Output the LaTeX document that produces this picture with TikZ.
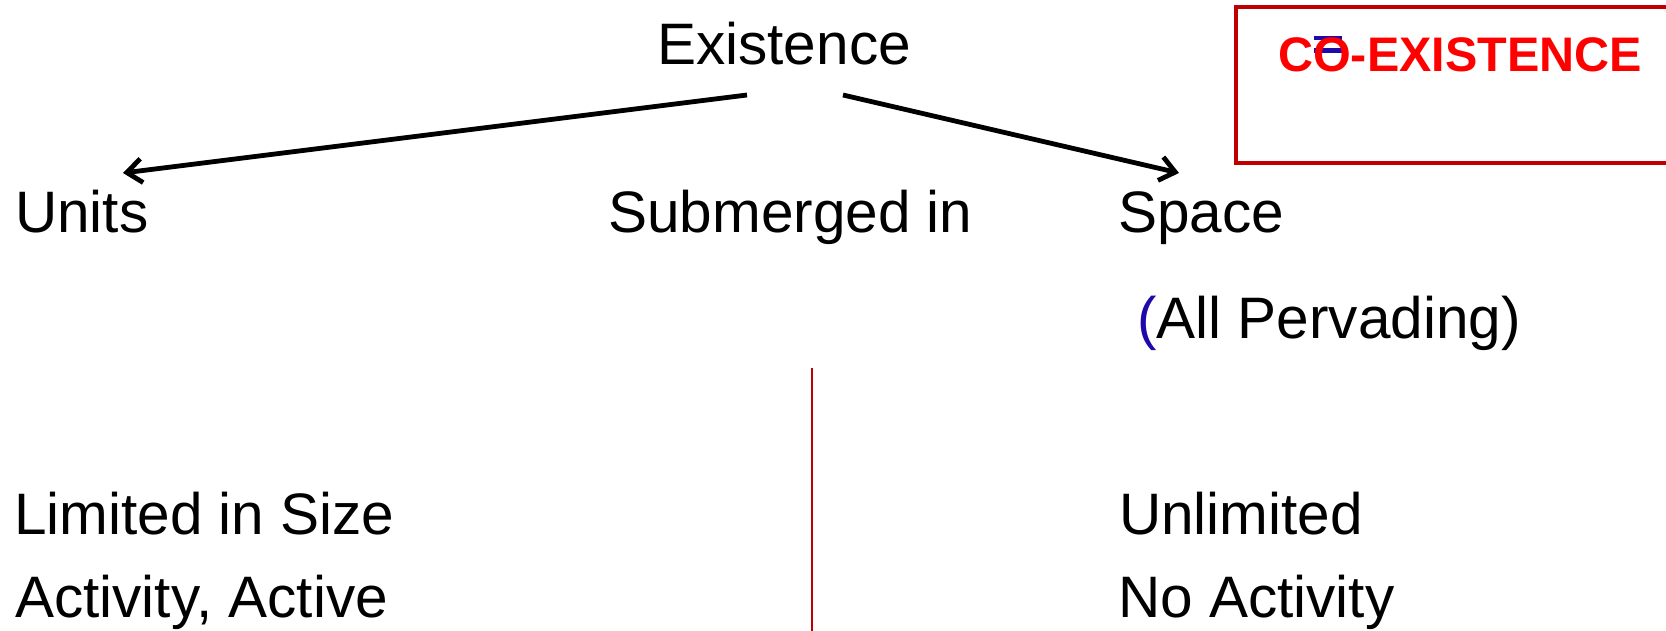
\documentclass[tikz,border=0pt]{standalone}
\usepackage{fontspec}
\setmainfont{Liberation Sans}
\usetikzlibrary{arrows.meta}
\definecolor{boxred}{RGB}{192,0,0}
\definecolor{txtred}{RGB}{255,0,0}
\definecolor{parblue}{RGB}{30,10,170}
\tikzset{
  lbl/.style={anchor=base west, inner sep=0pt, font=\fontsize{58.5}{60}\selectfont},
  conn/.style={line width=4.8pt, -{Straight Barb[length=15pt,width=24pt]}}
}
\begin{document}
\begin{tikzpicture}[x=1pt,y=-1pt]
\useasboundingbox (0,0) rectangle (1666,631);
\clip (0,0) rectangle (1666,631);
\fill[white] (0,0) rectangle (1666,631);
% title box
\draw[boxred, line width=4pt] (1236,7) rectangle (1690,163);
\fill[parblue] (1314,36) rectangle (1342,40);
\fill[parblue] (1314,48) rectangle (1342,53);
\node[anchor=base west, inner sep=0pt, text=txtred, font=\fontsize{48.5}{50}\selectfont\bfseries] (coex) at (1278,72) {CO-EXISTENCE};
% texts
\node[lbl] (exist) at (657,65) {Existence};
\node[lbl] (units) at (15,233) {Units};
\node[lbl] (subm) at (608,233) {Submerged in};
\node[lbl] (space) at (1118,233) {Space};
\node[lbl] (perv) at (1137,338) {\textcolor{parblue}{(}All Pervading)};
\node[lbl] (lim) at (14,534) {Limited in Size};
\node[lbl] (act) at (15,617) {Activity, Active};
\node[lbl] (unlim) at (1119,534) {Unlimited};
\node[lbl] (noact) at (1118,617) {No Activity};
% connectors
\coordinate (ls) at (747,95);
\coordinate (lt) at (123,173);
\coordinate (rs) at (843,95);
\coordinate (rt) at (1179,173);
\draw[conn] (ls) -- (lt);
\draw[conn] (rs) -- (rt);
% divider
\coordinate (dtop) at (812,368);
\coordinate (dbot) at (812,640);
\draw[boxred, line width=1.6pt] (dtop) -- (dbot);
\end{tikzpicture}
\end{document}
